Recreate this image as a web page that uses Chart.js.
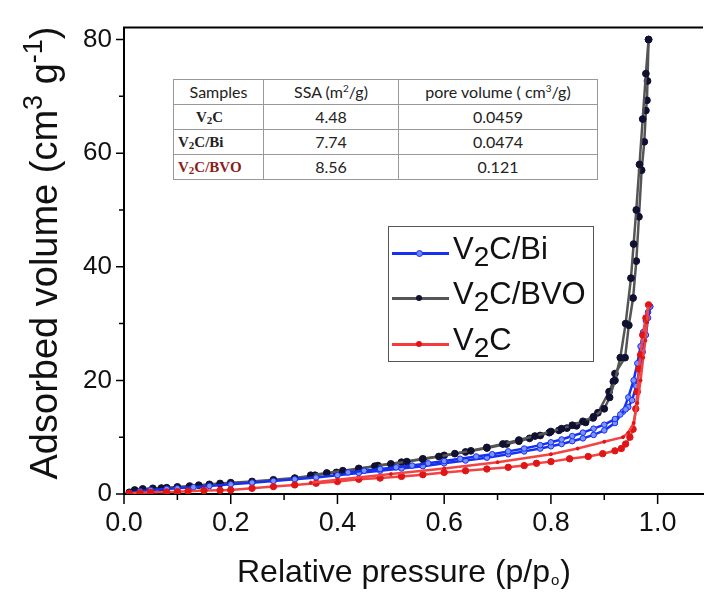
<!DOCTYPE html>
<html>
<head>
<meta charset="utf-8">
<script src="https://cdn.jsdelivr.net/npm/chart.js@4"></script>
<style>
  body{margin:0;background:#fff;}
  #wrap{position:relative;width:708px;height:604px;overflow:hidden;}
  #c{position:absolute;left:0;top:0;}
  #tbl{position:absolute;left:173px;top:79px;border-collapse:collapse;font-family:Lato,"Open Sans",sans-serif;font-size:16px;color:#222;background:#fff;}
  #tbl td{border:1px solid #999;height:24px;padding:0;text-align:center;line-height:24px;}
  #tbl td.s{font-family:"Liberation Serif",serif;font-weight:bold;font-size:15px;text-align:left;padding-left:4px;}
  #tbl sup{font-size:10px;vertical-align:6px;line-height:0;}
  #tbl sub{font-size:11px;vertical-align:-2px;line-height:0;}
  #leg{position:absolute;left:388px;top:226px;width:204px;height:134px;border:1px solid #555;background:#fff;}
  .ln{position:absolute;left:3px;width:57px;height:0;border-top:3px solid;}
  .dot{position:absolute;left:27px;width:6px;height:6px;border-radius:50%;}
  .tx{position:absolute;left:64px;font-family:"Liberation Sans",Arial,sans-serif;font-size:31px;line-height:30px;color:#111;white-space:nowrap;}
  .tx span{font-size:28px;position:relative;top:7px;}
</style>
</head>
<body>
<div id="wrap">
<canvas id="c" width="708" height="604"></canvas>
<table id="tbl">
  <tr><td style="width:89px">Samples</td><td style="width:134px">SSA (m<sup>2</sup>/g)</td><td style="width:198px">pore volume ( cm<sup>3</sup>/g)</td></tr>
  <tr><td class="s" style="padding-left:22px">V<sub>2</sub>C</td><td>4.48</td><td>0.0459</td></tr>
  <tr><td class="s">V<sub>2</sub>C/Bi</td><td>7.74</td><td>0.0474</td></tr>
  <tr><td class="s" style="color:#8b1c1c">V<sub>2</sub>C/BVO</td><td>8.56</td><td>0.121</td></tr>
</table>
<div id="leg">
  <div class="ln" style="top:25px;border-color:#1530f0"></div><div class="dot" style="top:23px;background:#6f86ff;border:1px solid #1530f0;width:5px;height:5px"></div>
  <div class="tx" style="top:7px">V<span>2</span>C/Bi</div>
  <div class="ln" style="top:70px;border-color:#555"></div><div class="dot" style="top:68px;background:#101030"></div>
  <div class="tx" style="top:52px">V<span>2</span>C/BVO</div>
  <div class="ln" style="top:116px;border-color:#f03c3c"></div><div class="dot" style="top:114px;background:#e01515"></div>
  <div class="tx" style="top:98px">V<span>2</span>C</div>
</div>
</div>
<script>
// tick labels
var xMajor=[0,0.2,0.4,0.6,0.8,1.0];
var xMinor=[0.1,0.3,0.5,0.7,0.9];
var yMajor=[0,20,40,60,80];
var yMinor=[10,30,50,70];

// V2C/BVO
var bvoAdsP=[0.01,0.02,0.035,0.054,0.07,0.08,0.1,0.123,0.14,0.16,0.18,0.2,0.24,0.28,0.32,0.358,0.398,0.44,0.476,0.52,0.56,0.6,0.64,0.68,0.717,0.74,0.76,0.78,0.797,0.815,0.83,0.848,0.865,0.879,0.888,0.909,0.917,0.92,0.939,0.946,0.954,0.96,0.965,0.97,0.975,0.978,0.98,0.981,0.983];
var bvoAdsV=[0.3,0.7,0.9,1.0,1.05,1.1,1.25,1.4,1.55,1.7,1.85,2.0,2.2,2.5,2.8,3.3,3.8,4.4,5.0,5.6,6.2,6.8,7.4,8.1,8.8,9.3,9.8,10.3,10.8,11.2,11.6,12.0,12.6,13.4,14.3,18,19.8,21.2,24,29.7,34.5,41,48.8,57,62,67.5,69.3,72.7,80];
var bvoDesP=[0.983,0.978,0.972,0.966,0.96,0.955,0.95,0.94,0.93,0.92,0.91,0.9,0.88,0.86,0.84,0.82,0.8,0.77,0.74,0.71,0.68,0.65,0.62,0.59,0.56,0.53,0.5,0.47,0.44,0.41,0.38,0.35];
var bvoDesV=[80,74,66,58,50,44,38,30,24,20,17,15,13.6,12.8,12.1,11.5,11.0,10.2,9.5,8.8,8.2,7.6,7.1,6.6,6.1,5.7,5.3,4.9,4.5,4.1,3.7,3.3];

// V2C/Bi
var biAdsP=[0.01,0.03,0.05,0.08,0.1,0.13,0.16,0.2,0.24,0.28,0.32,0.36,0.4,0.44,0.48,0.52,0.56,0.6,0.64,0.68,0.72,0.75,0.78,0.8,0.82,0.84,0.86,0.88,0.9,0.92,0.935,0.945,0.955,0.962,0.968,0.973,0.978,0.982,0.986];
var biAdsV=[0.2,0.5,0.7,0.9,1.0,1.2,1.4,1.7,2.0,2.3,2.6,2.9,3.3,3.7,4.1,4.5,4.9,5.4,5.9,6.4,7.0,7.5,8.0,8.4,8.8,9.3,9.8,10.4,11.2,12.5,14.5,17,20,23,26,28.5,30.5,32,33];
var biDesP=[0.986,0.982,0.978,0.972,0.966,0.96,0.952,0.945,0.94,0.93,0.92,0.9,0.88,0.86,0.84,0.82,0.8,0.78,0.75,0.72,0.69,0.66,0.63,0.6,0.57,0.54,0.51,0.48,0.45,0.42];
var biDesV=[33,31,28,25,22,19,16.5,15.3,14.9,14,13.2,12.2,11.5,10.8,10.2,9.6,9.1,8.6,8.0,7.5,7.0,6.6,6.2,5.8,5.4,5.0,4.7,4.4,4.1,3.8];

// V2C
var vcAdsP=[0.01,0.03,0.05,0.08,0.1,0.12,0.15,0.18,0.2,0.24,0.28,0.32,0.36,0.4,0.44,0.48,0.52,0.56,0.6,0.64,0.68,0.72,0.75,0.773,0.8,0.835,0.87,0.897,0.92,0.932,0.94,0.948,0.954,0.959,0.962,0.965,0.968,0.972,0.978,0.983];
var vcAdsV=[0.1,0.2,0.3,0.35,0.4,0.5,0.6,0.65,0.7,1.0,1.3,1.6,1.9,2.2,2.6,2.8,3.1,3.4,3.8,4.1,4.4,4.7,5.0,5.4,5.7,6.2,6.6,7.1,7.6,8.0,8.8,10,11.4,15,18,22,24.5,28,31,33.3];
var vcDesP=[0.983,0.98,0.977,0.973,0.968,0.962,0.955,0.945,0.935,0.9,0.85,0.8,0.7,0.6,0.5,0.4,0.35];
var vcDesV=[33.3,30.2,27,24,20,16,12.5,10.8,10,9.2,8.0,7.0,5.6,4.5,3.5,2.5,2.0];

function pts(px,vy){
  var r=[];
  for(var i=0;i<px.length;i++) r.push({x:px[i],y:vy[i]});
  return r;
}

function serie(data,line,fill,border,rad){
  return {data:data,showLine:true,borderColor:line,borderWidth:2.5,pointRadius:rad,
    pointBackgroundColor:fill,pointBorderColor:border,pointBorderWidth:1,tension:0};
}

var decor={
  id:'decor',
  afterDraw:function(chart){
    var ctx=chart.ctx,a=chart.chartArea,xs=chart.scales.x,ys=chart.scales.y;
    ctx.save();
    ctx.strokeStyle='#000';
    ctx.lineWidth=2;
    ctx.beginPath();ctx.moveTo(a.left-1,a.top);ctx.lineTo(a.right,a.top);ctx.stroke();
    ctx.lineWidth=1.5;
    ctx.beginPath();
    xMajor.forEach(function(v){var x=xs.getPixelForValue(v);ctx.moveTo(x,a.bottom);ctx.lineTo(x,a.bottom+10);});
    xMinor.forEach(function(v){var x=xs.getPixelForValue(v);ctx.moveTo(x,a.bottom);ctx.lineTo(x,a.bottom+6);});
    yMajor.forEach(function(v){var y=ys.getPixelForValue(v);ctx.moveTo(a.left,y);ctx.lineTo(a.left-8,y);});
    yMinor.forEach(function(v){var y=ys.getPixelForValue(v);ctx.moveTo(a.left,y);ctx.lineTo(a.left-5,y);});
    ctx.stroke();

    // x title
    ctx.fillStyle='#111';
    ctx.textBaseline='alphabetic';
    ctx.textAlign='left';
    var big='32px "Liberation Sans", Arial, sans-serif', sm='15px "Liberation Sans", Arial, sans-serif';
    ctx.font=big;
    var t1='Relative pressure (p/p', t3=')';
    var w1=ctx.measureText(t1).width, w3=ctx.measureText(t3).width;
    ctx.font=sm; var w2=ctx.measureText('o').width+2;
    var x0=404-(w1+w2+w3)/2, yb=582;
    ctx.font=big; ctx.fillText(t1,x0,yb);
    ctx.font=sm; ctx.fillText('o',x0+w1+1,yb+3);
    ctx.font=big; ctx.fillText(t3,x0+w1+w2,yb);

    // y title
    ctx.save();
    ctx.translate(57,253);
    ctx.rotate(-Math.PI/2);
    var yb1='38px "Liberation Sans", Arial, sans-serif';
    var s1='Adsorbed volume (cm', s2='3', s3=' g', s4='-1', s5=')';
    var sup='27px "Liberation Sans", Arial, sans-serif';
    ctx.font=yb1; var a1=ctx.measureText(s1).width, a3=ctx.measureText(s3).width, a5=ctx.measureText(s5).width;
    ctx.font=sup; var a2=ctx.measureText(s2).width, a4=ctx.measureText(s4).width;
    var tot=a1+a2+a3+a4+a5, xx=-tot/2;
    ctx.font=yb1; ctx.fillText(s1,xx,0); xx+=a1;
    ctx.font=sup; ctx.fillText(s2,xx,-15); xx+=a2;
    ctx.font=yb1; ctx.fillText(s3,xx,0); xx+=a3;
    ctx.font=sup; ctx.fillText(s4,xx,-15); xx+=a4;
    ctx.font=yb1; ctx.fillText(s5,xx,0);
    ctx.restore();
    ctx.restore();
  }
};

new Chart(document.getElementById('c'),{
  type:'scatter',
  data:{datasets:[
    serie(pts(vcDesP,vcDesV),'#f24444','#e01515','#e01515',1.5),
    serie(pts(vcAdsP,vcAdsV),'#f24444','#e01515','#e01515',3.2),
    serie(pts(biDesP,biDesV),'#1530f0','#7d93ff','#1530f0',2.8),
    serie(pts(biAdsP,biAdsV),'#1530f0','#7d93ff','#1530f0',2.8),
    serie(pts(bvoDesP,bvoDesV),'#555555','#101030','#101030',3.4),
    serie(pts(bvoAdsP,bvoAdsV),'#555555','#101030','#101030',3.4)
  ]},
  options:{
    responsive:false,
    animation:false,
    layout:{padding:{top:21,right:0,left:0,bottom:0}},
    plugins:{legend:{display:false},tooltip:{enabled:false}},
    scales:{
      x:{type:'linear',min:0,max:1.085,
        grid:{display:true,drawOnChartArea:false,drawTicks:false},
        border:{display:true,color:'#000',width:2},
        afterBuildTicks:function(s){s.ticks=xMajor.map(function(v){return {value:v};});},
        afterFit:function(s){s.height=110;},
        ticks:{padding:13,color:'#111',font:{family:'"Liberation Sans", Arial, sans-serif',size:27},
          callback:function(v){return v.toFixed(1);}}
      },
      y:{type:'linear',min:0,max:82.1,
        grid:{display:true,drawOnChartArea:false,drawTicks:false},
        border:{display:true,color:'#000',width:2},
        afterBuildTicks:function(s){s.ticks=yMajor.map(function(v){return {value:v};});},
        afterFit:function(s){s.width=124;},
        ticks:{padding:12,color:'#111',font:{family:'"Liberation Sans", Arial, sans-serif',size:26}}
      }
    }
  },
  plugins:[decor]
});
</script>
</body>
</html>
